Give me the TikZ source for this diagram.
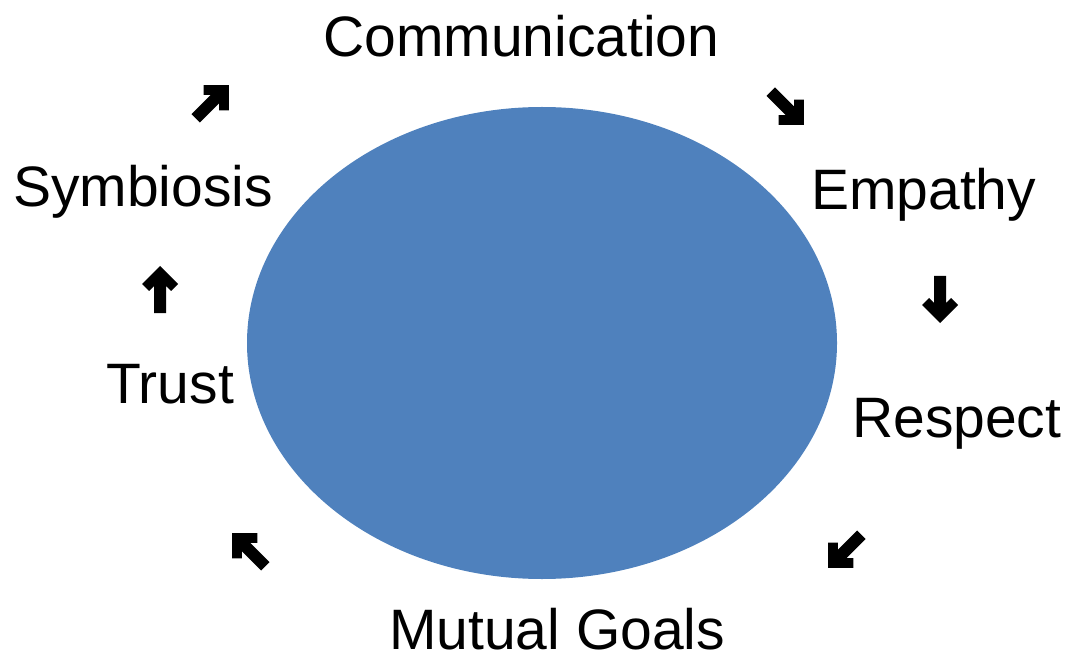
\documentclass[tikz,border=0pt]{standalone}
\usepackage{fontspec}
\setmainfont{Liberation Sans}
\definecolor{discblue}{HTML}{4F81BD}
\begin{document}
\begin{tikzpicture}[x=1pt,y=1pt,
  label/.style={inner sep=0pt,anchor=base west,font=\fontsize{57}{68}\selectfont},
  bigarrow/.pic={
    \fill[black] (0,24) -- (18,6) -- (11,-1) -- (6,4) -- (6,-23) -- (-6,-23)
      -- (-6,4) -- (-11,-1) -- (-18,6) -- cycle;
  }]
  \useasboundingbox (0,0) rectangle (1067,654);
  % central disc
  \fill[discblue] (542,311) ellipse [x radius=295, y radius=236];
  % labels around the disc
  \node[label] (comm) at (323,597) {Communication};
  \node[label] (emp)  at (811,444) {Empathy};
  \node[label] (resp) at (852,217) {Respect};
  \node[label] (goal) at (389,5)   {Mutual Goals};
  \node[label] (trust) at (106,251) {Trust};
  \node[label] (sym)  at (13,447)  {Symbiosis};
  % cycle arrows
  \pic[rotate=-135] (a1) at (787,546) {bigarrow};
  \pic[rotate=180] (a2) at (940,355) {bigarrow};
  \pic[rotate=135] (a3) at (845,103) {bigarrow};
  \pic[rotate=45] (a4) at (249,104) {bigarrow};
  \pic (a5) at (160,364) {bigarrow};
  \pic[rotate=-45] (a6) at (212,552) {bigarrow};
\end{tikzpicture}
\end{document}
